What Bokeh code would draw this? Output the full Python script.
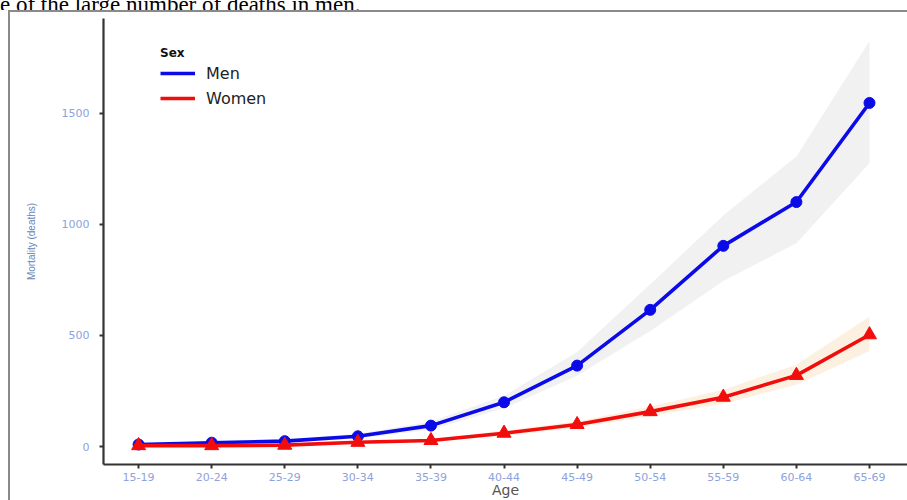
from bokeh.plotting import figure
from bokeh.layouts import column
from bokeh.models import Range1d, FixedTicker, Legend, LegendItem, Div
from bokeh.embed import file_html
from bokeh.resources import INLINE

# Age groups and mortality (deaths) by sex, with uncertainty bands
ages = ["15-19", "20-24", "25-29", "30-34", "35-39", "40-44",
        "45-49", "50-54", "55-59", "60-64", "65-69"]
men = [9, 17, 24, 46, 94, 199, 364, 615, 903, 1100, 1546]
men_low = [5, 11, 18, 36, 75, 172, 318, 520, 745, 915, 1275]
men_high = [14, 23, 31, 57, 112, 228, 425, 730, 1040, 1305, 1825]
women = [4, 4, 6, 19, 27, 60, 99, 157, 222, 320, 503]
women_low = [2, 2, 3, 14, 20, 48, 84, 136, 192, 278, 430]
women_high = [6, 6, 9, 25, 34, 72, 114, 180, 255, 368, 585]
y_ticks = [0, 500, 1000, 1500]
caption = "e of the large number of deaths in men."

x = list(range(len(ages)))

# caption text running above the figure panel (its upper part is cut off)
caption_div = Div(
    text=(
        "<div style=\"font-family:'Liberation Serif';font-size:23px;"
        "line-height:23px;white-space:nowrap;margin-top:-13px;color:#000\">"
        f"{caption}</div>"
    ),
    width=907, height=10,
    styles={"overflow": "hidden", "margin": "0", "padding": "0"},
)

frame_grey = "#8a8a8a"
panel_css = (
    f"linear-gradient({frame_grey},{frame_grey}) 8px 0px / 899px 2px no-repeat, "
    f"linear-gradient({frame_grey},{frame_grey}) 8px 0px / 2px 490px no-repeat, "
    "#ffffff"
)

p = figure(width=907, height=490, output_backend="svg", toolbar_location=None,
           x_range=Range1d(-0.48, 10.52), y_range=Range1d(-81, 1926),
           min_border_left=103, min_border_right=0, min_border_top=8,
           min_border_bottom=35, styles={"background": panel_css})
p.outline_line_color = None
p.background_fill_color = "white"
p.border_fill_alpha = 0
p.xgrid.visible = False
p.ygrid.visible = False

# confidence ribbons
p.varea(x=x, y1=men_low, y2=men_high, fill_color="#e8e8e8", fill_alpha=0.6)
p.varea(x=x, y1=women_low, y2=women_high, fill_color="#f9e6c8", fill_alpha=0.55)

blue = "#0b0be8"
red = "#f20d0d"
men_line = p.line(x, men, line_color=blue, line_width=3.6)
p.scatter(x, men, marker="circle", size=11, fill_color=blue, line_color=blue)
women_line = p.line(x, women, line_color=red, line_width=3.6)
p.scatter(x, women, marker="triangle", size=14, fill_color=red, line_color=red)

tick_blue = "#8ea2dc"
for ax in (p.xaxis[0], p.yaxis[0]):
    ax.axis_line_color = "#333333"
    ax.axis_line_width = 2.2
    ax.major_tick_line_color = "#333333"
    ax.major_tick_line_width = 2
    ax.major_tick_out = 4
    ax.major_tick_in = 0
    ax.minor_tick_line_color = None
    ax.major_label_text_color = tick_blue
    ax.major_label_text_font = "DejaVu Sans"
    ax.major_label_text_font_size = "11px"

p.xaxis.ticker = FixedTicker(ticks=x)
p.xaxis.major_label_overrides = {i: a for i, a in enumerate(ages)}
p.xaxis.major_label_standoff = 4
p.xaxis.axis_label = "Age"
p.xaxis.axis_label_text_font = "DejaVu Sans"
p.xaxis.axis_label_text_font_size = "14px"
p.xaxis.axis_label_text_font_style = "normal"
p.xaxis.axis_label_text_color = "#555555"
p.xaxis.axis_label_standoff = -2

p.yaxis.ticker = FixedTicker(ticks=y_ticks)
p.yaxis.major_label_standoff = 10
p.yaxis.axis_label = "Mortality (deaths)"
p.yaxis.axis_label_text_font = "Liberation Sans"
p.yaxis.axis_label_text_font_size = "10px"
p.yaxis.axis_label_text_font_style = "normal"
p.yaxis.axis_label_text_color = "#6884b8"
p.yaxis.axis_label_standoff = 22

legend = Legend(items=[LegendItem(label="Men", renderers=[men_line]),
                       LegendItem(label="Women", renderers=[women_line])],
                title="Sex", location=(57, 356), orientation="vertical")
legend.title_text_font = "DejaVu Sans"
legend.title_text_font_style = "bold"
legend.title_text_font_size = "12px"
legend.title_text_color = "#111111"
legend.title_standoff = 3
legend.label_text_font = "DejaVu Sans"
legend.label_text_font_size = "16px"
legend.label_text_color = "#222222"
legend.glyph_width = 35
legend.glyph_height = 20
legend.label_height = 20
legend.label_standoff = 11
legend.spacing = 5
legend.padding = 0
legend.margin = 0
legend.border_line_color = None
legend.background_fill_alpha = 0
p.add_layout(legend)

page = column(caption_div, p, spacing=0)
open("out.html", "w").write(file_html(page, INLINE))
